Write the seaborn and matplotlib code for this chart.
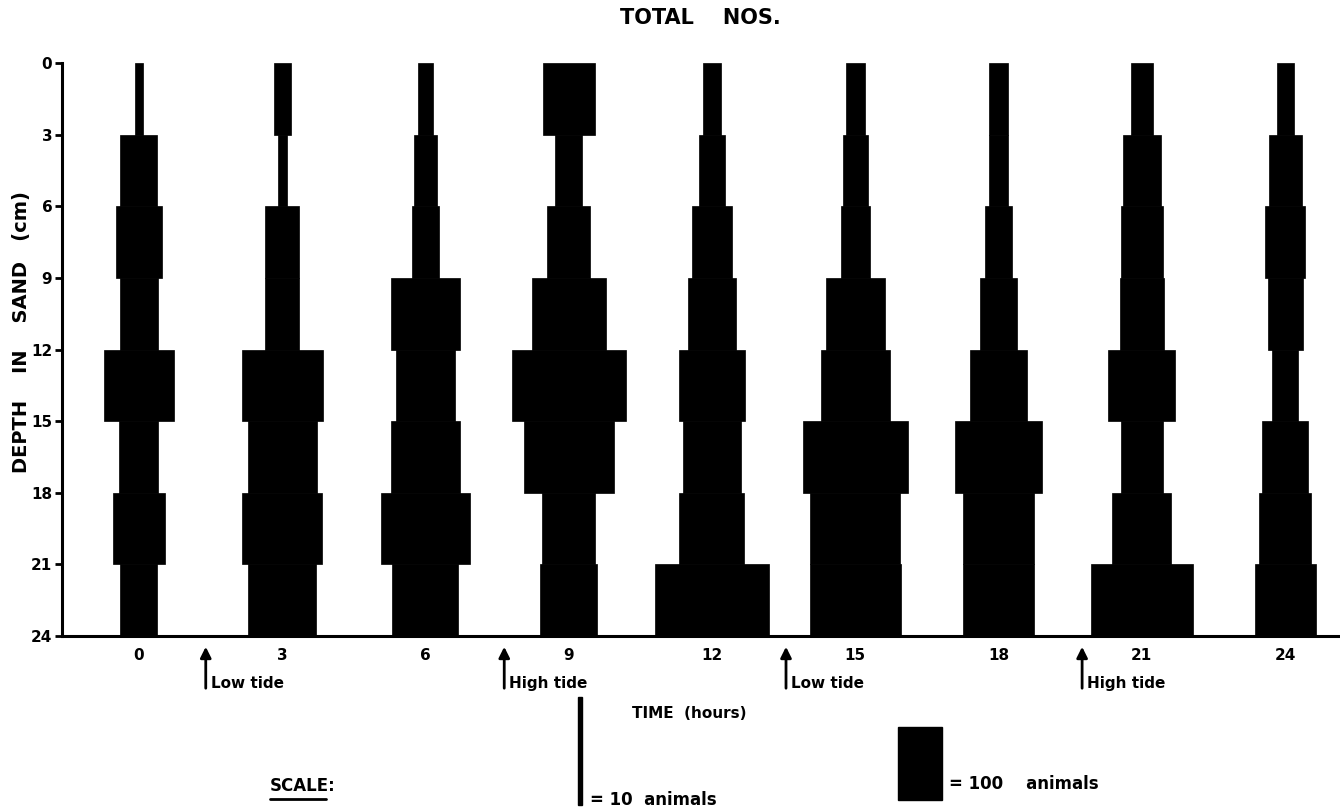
import matplotlib
matplotlib.use("Agg")
import matplotlib.pyplot as plt
from matplotlib.patches import Rectangle
from matplotlib.lines import Line2D
import numpy as np
import pandas as pd
import seaborn as sns

# sampling times (hours) and top of each 3 cm sand layer
times = [0, 3, 6, 9, 12, 15, 18, 21, 24]
layer_top = [0, 3, 6, 9, 12, 15, 18, 21]

# number of animals in each layer
n_00h = [18, 84, 105, 86, 161, 89, 118, 84]
n_03h = [39, 20, 77, 77, 184, 157, 182, 155]
n_06h = [36, 52, 61, 159, 134, 159, 202, 150]
n_09h = [118, 61, 98, 168, 259, 205, 120, 130]
n_12h = [39, 61, 89, 111, 152, 130, 148, 261]
n_15h = [43, 57, 66, 134, 157, 239, 205, 207]
n_18h = [43, 43, 61, 86, 130, 198, 161, 161]
n_21h = [50, 86, 95, 100, 152, 95, 134, 232]
n_24h = [39, 75, 91, 80, 61, 105, 120, 139]

tide_times = [1.4, 7.65, 13.55, 19.75]
tide_labels = ['Low tide', 'High tide', 'Low tide', 'High tide']
scale_counts = [10, 100]

counts = [n_00h, n_03h, n_06h, n_09h, n_12h, n_15h, n_18h, n_21h, n_24h]
df = pd.DataFrame([(t, d, n) for t, col in zip(times, counts) for d, n in zip(layer_top, col)],
                  columns=['time', 'depth', 'n'])

HOURS_PER_ANIMAL = 0.0092   # kite width scale
LAYER = 3

sns.set_theme(style='white')
plt.rcParams['font.family'] = ['DejaVu Sans']
plt.rcParams['font.weight'] = 'bold'
for k in ['text.color', 'axes.labelcolor', 'xtick.color', 'ytick.color']:
    plt.rcParams[k] = 'black'

fig = plt.figure(figsize=(13.4, 8.07), dpi=100)
ax = fig.add_axes([62 / 1340, 1 - 636 / 807, 1278 / 1340, 573 / 807])

df['w'] = df['n'] * HOURS_PER_ANIMAL
ax.barh(df['depth'] + LAYER / 2, df['w'], left=df['time'] - df['w'] / 2,
        height=LAYER, color='black', edgecolor='black', linewidth=0.5)

ax.set_xlim(-1.61, 25.15)
ax.set_ylim(24, 0)
ax.set_yticks(np.arange(0, 25, 3))
ax.set_yticklabels([str(v) for v in np.arange(0, 25, 3)], fontsize=11, fontweight='bold')
ax.set_xticks(times)
ax.set_xticklabels([str(t) for t in times], fontsize=11, fontweight='bold')
ax.tick_params(axis='x', length=0, pad=9)
ax.tick_params(axis='y', length=5, width=2, direction='out', pad=2, left=True)
sns.despine(ax=ax)
for s in ['left', 'bottom']:
    ax.spines[s].set_linewidth(2.2)
    ax.spines[s].set_color('black')

ax.set_ylabel('DEPTH    IN    SAND   (cm)', fontsize=14, fontweight='bold')
ax.yaxis.set_label_coords(-0.024, 0.53)
ax.set_xlabel('TIME  (hours)', fontsize=11, fontweight='bold')
ax.xaxis.set_label_coords(0.491, -0.122)

fig.text(0.523, 0.978, 'TOTAL    NOS.', ha='center', va='center', fontsize=15, fontweight='bold')

# tide arrows
xt = ax.get_xaxis_transform()
for t, lab in zip(tide_times, tide_labels):
    ax.annotate('', xy=(t, -0.014), xytext=(t, -0.096), xycoords=xt, textcoords=xt,
                arrowprops=dict(arrowstyle='-|>', color='black', lw=2, mutation_scale=16),
                annotation_clip=False)
    ax.text(t + 0.1, -0.083, lab, transform=xt, ha='left', va='center',
            fontsize=11, fontweight='bold')

# scale key
key_x = [9.24, 16.36]
key_y = [(-0.295, -0.106), (-0.286, -0.159)]
key_text = ['= 10  animals', '= 100    animals']
key_ty = [-0.287, -0.259]
for n, x, (y0, y1), txt, ty in zip(scale_counts, key_x, key_y, key_text, key_ty):
    w = n * HOURS_PER_ANIMAL
    ax.add_patch(Rectangle((x - w / 2, y0), w, y1 - y0, transform=xt, color='black', clip_on=False))
    ax.text(x + w / 2 + 0.15, ty, txt, transform=xt, ha='left', va='center',
            fontsize=12, fontweight='bold')

fig.text(270 / 1340, 1 - 786 / 807, 'SCALE:', ha='left', va='center', fontsize=12, fontweight='bold')
fig.add_artist(Line2D([270 / 1340, 326 / 1340], [1 - 799 / 807] * 2, color='black', lw=2))

fig.savefig('out.png', dpi=100)
